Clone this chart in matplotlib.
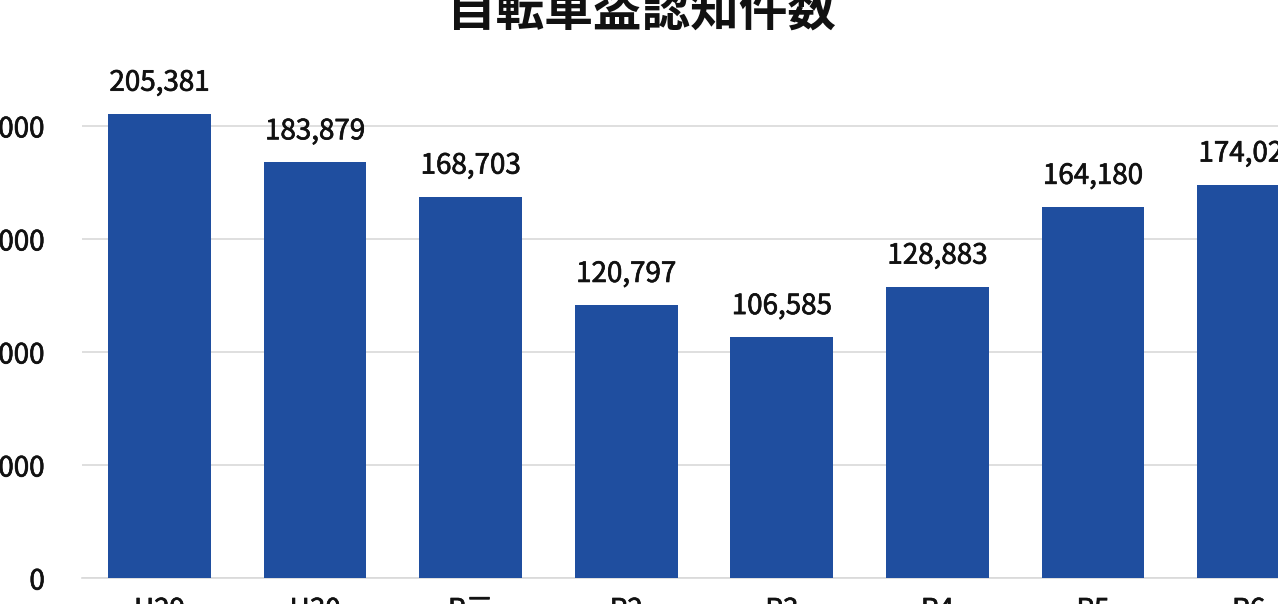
import matplotlib
matplotlib.use("Agg")
import matplotlib.pyplot as plt
import matplotlib.patheffects as pe
from matplotlib.ticker import FuncFormatter

plt.rcParams['font.family'] = ['Noto Sans CJK JP', 'DejaVu Sans']

title = "自転車盗認知件数"
categories = ["H29", "H30", "R元", "R2", "R3", "R4", "R5", "R6"]
counts = [205381, 183879, 168703, 120797, 106585, 128883, 164180, 174028]
yticks = [0, 50000, 100000, 150000, 200000]

W, H = 1278, 604
fig = plt.figure(figsize=(W / 100, H / 100), dpi=100)

# axes placed in pixel terms; the plot runs past the right edge of the canvas
left_px, right_px = 81.7, 1326.3
bottom_px, top_px = 578, 58
ax = fig.add_axes([left_px / W, (H - bottom_px) / H,
                   (right_px - left_px) / W, (bottom_px - top_px) / H])

bar_color = "#1F4E9F"
text_color = "#111111"
# a hairline stroke gives the labels a medium weight
medium = [pe.withStroke(linewidth=0.5, foreground=text_color)]

x = list(range(len(categories)))
ax.bar(x, counts, width=0.66, color=bar_color, zorder=3)

ax.set_xlim(-0.5, len(categories) - 0.5)
ax.set_ylim(0, 230000)
ax.set_yticks(yticks)
ax.yaxis.set_major_formatter(FuncFormatter(lambda v, p: f"{int(v):,}"))
ax.set_xticks(x)
ax.set_xticklabels(categories)

ax.grid(axis="y", color="#D9D9D9", linewidth=1.2, zorder=0)
for side in ["top", "right", "left"]:
    ax.spines[side].set_visible(False)
ax.spines["bottom"].set_color("#D9D9D9")
ax.spines["bottom"].set_linewidth(1.2)
ax.tick_params(axis="both", length=0, labelsize=20, colors=text_color)
ax.tick_params(axis="y", pad=26.5)
ax.tick_params(axis="x", pad=12.5)
for lbl in ax.get_xticklabels() + ax.get_yticklabels():
    lbl.set_path_effects(medium)

for xi, v in zip(x, counts):
    ax.annotate(f"{v:,}", (xi, v), xytext=(0, 11.5), textcoords="offset points",
                ha="center", va="bottom", fontsize=20, color=text_color,
                path_effects=medium)

fig.text(641 / W, 1 - 27 / H, title, ha="center", va="baseline",
         fontsize=35, fontweight="bold", color=text_color)

fig.savefig("out.png", dpi=100)
